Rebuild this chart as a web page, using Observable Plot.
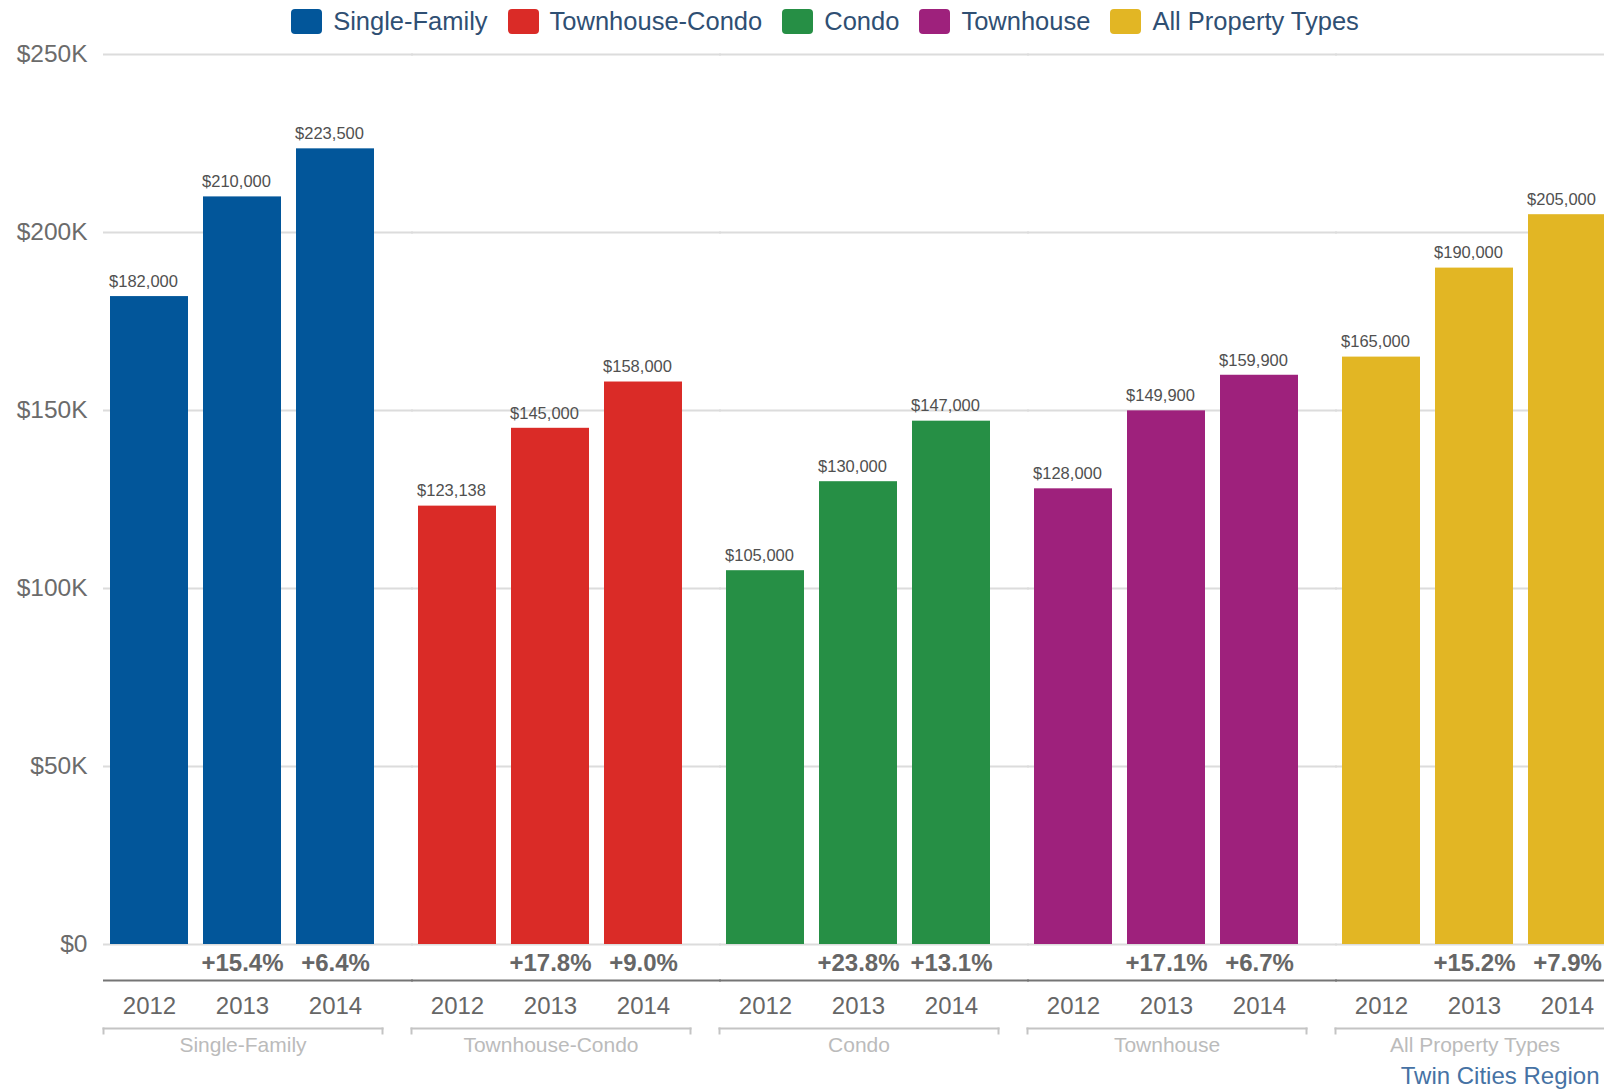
<!DOCTYPE html>
<html>
<head>
<meta charset="utf-8">
<script src="https://cdn.jsdelivr.net/npm/d3@7"></script>
<script src="https://cdn.jsdelivr.net/npm/@observablehq/plot@0.6"></script>
<style>
html, body { margin: 0; padding: 0; background: #fff; overflow: hidden; width: 1604px; height: 1089px; }
#wrap { width: 1650px; }
#legend { height: 43px; display: flex; justify-content: center; align-items: center;
  font-family: "Liberation Sans", Arial, sans-serif; font-size: 25.5px; color: #2f4f73; }
.item { display: flex; align-items: center; margin: 0 10px; }
.sw { width: 31px; height: 25px; border-radius: 4px; margin-right: 11px; }
svg { display: block; }
</style>
</head>
<body>
<div id="wrap">
  <div id="legend"></div>
  <div id="chart"></div>
</div>
<script>
// ---- data ----
const groups = ["Single-Family", "Townhouse-Condo", "Condo", "Townhouse", "All Property Types"];
const years = ["2012", "2013", "2014"];
const singleFamily   = [182000, 210000, 223500];
const townhouseCondo = [123138, 145000, 158000];
const condo          = [105000, 130000, 147000];
const townhouse      = [128000, 149900, 159900];
const allTypes       = [165000, 190000, 205000];
const singleFamilyPct   = ["", "+15.4%", "+6.4%"];
const townhouseCondoPct = ["", "+17.8%", "+9.0%"];
const condoPct          = ["", "+23.8%", "+13.1%"];
const townhousePct      = ["", "+17.1%", "+6.7%"];
const allTypesPct       = ["", "+15.2%", "+7.9%"];
const colors = ["#02569a", "#da2b27", "#268f45", "#9e217c", "#e2b624"];
const yTicks = [0, 50000, 100000, 150000, 200000, 250000];
const yTickLabels = ["$0", "$50K", "$100K", "$150K", "$200K", "$250K"];
const footer = "Twin Cities Region";

const seriesValues = [singleFamily, townhouseCondo, condo, townhouse, allTypes];
const seriesPct = [singleFamilyPct, townhouseCondoPct, condoPct, townhousePct, allTypesPct];
const rows = [];
groups.forEach((g, i) => years.forEach((y, j) => rows.push({group: g, year: y, value: seriesValues[i][j], pct: seriesPct[i][j]})));

// ---- legend ----
const legend = document.getElementById("legend");
groups.forEach((g, i) => {
  const it = document.createElement("div");
  it.className = "item";
  const sw = document.createElement("span");
  sw.className = "sw";
  sw.style.background = colors[i];
  const tx = document.createElement("span");
  tx.textContent = g;
  it.appendChild(sw); it.appendChild(tx);
  legend.appendChild(it);
});

// ---- chart ----
const W = 1650, H = 1046, mL = 102, mR = 34, mT = 11, mB = 145;
const plotH = H - mT - mB;
const fmt = d3.format(",");

const chart = Plot.plot({
  width: W, height: H,
  marginLeft: mL, marginRight: mR, marginTop: mT, marginBottom: mB,
  style: {fontFamily: "'Liberation Sans', Arial, sans-serif", fontSize: "24.5px", color: "#6b6b6b", background: "#fff", overflow: "visible"},
  fx: {domain: groups, paddingInner: 0.094, paddingOuter: 0, axis: null, label: null},
  x: {domain: years, paddingInner: 0.16, paddingOuter: 0.08, axis: null, label: null},
  y: {domain: [0, 250000], ticks: yTicks, tickFormat: d => yTickLabels[yTicks.indexOf(d)], tickSize: 0, tickPadding: 16, label: null},
  color: {domain: groups, range: colors},
  marks: [
    Plot.ruleY(yTicks, {stroke: "#dcdcdc", strokeWidth: 2, insetRight: -31}),
    Plot.barY(rows, {fx: "group", x: "year", y: "value", fill: "group"}),
    Plot.text(rows, {fx: "group", x: "year", y: "value", text: d => "$" + fmt(d.value), dy: -15, dx: -6, fontSize: 16.5, fill: "#505050"}),
    Plot.text(rows.filter(d => d.pct), {fx: "group", x: "year", y: d => 0, text: "pct", dy: 19, fontSize: 24, fontWeight: "bold", fill: "#666"}),
    Plot.ruleY([0], {stroke: "#757575", strokeWidth: 2, dy: 36, insetRight: -31}),
    Plot.text(rows, {fx: "group", x: "year", y: d => 0, text: "year", dy: 62, fontSize: 24, fill: "#666"}),
    Plot.frame({anchor: "bottom", stroke: "#c4c4c4", strokeWidth: 2, insetBottom: -84}),
    Plot.frame({anchor: "left", stroke: "#c4c4c4", strokeWidth: 2, insetTop: plotH + 84, insetBottom: -89}),
    Plot.frame({anchor: "right", stroke: "#c4c4c4", strokeWidth: 2, insetTop: plotH + 84, insetBottom: -89}),
    Plot.text(groups, {fx: d => d, frameAnchor: "bottom", lineAnchor: "middle", text: d => d, dy: 101, fontSize: 21, fill: "#bbbbbb"}),
    Plot.text([footer], {fx: () => groups[4], frameAnchor: "bottom-right", lineAnchor: "middle", textAnchor: "end", text: d => d, dx: -15, dy: 132, fontSize: 24, fill: "#4672a4"})
  ]
});
document.getElementById("chart").appendChild(chart);
</script>
</body>
</html>
